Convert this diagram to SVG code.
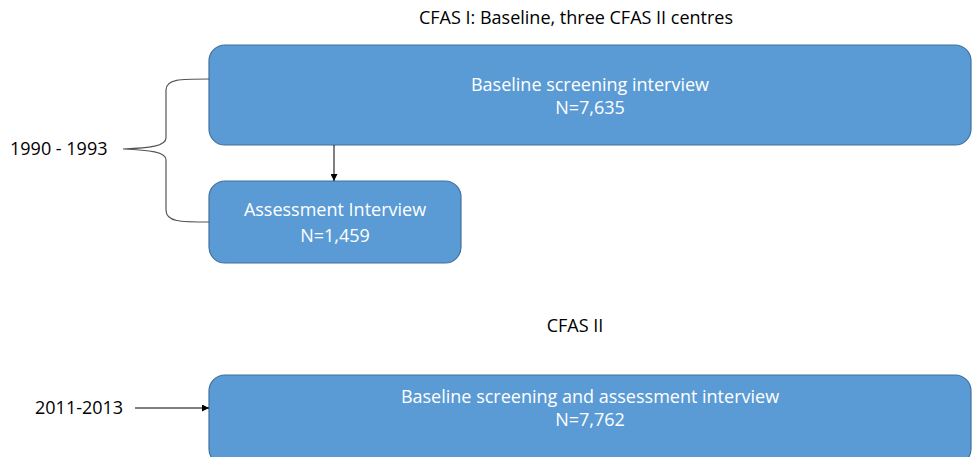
<svg xmlns="http://www.w3.org/2000/svg" width="973" height="457" viewBox="0 0 973 457">
<style>
.box{fill:#5b9bd5;stroke:#41719c;stroke-width:1.2}
.bt{font-family:"Open Sans","Liberation Sans",sans-serif;font-size:18px;fill:#fff;text-anchor:middle}
.lt{font-family:"Open Sans","Liberation Sans",sans-serif;font-size:18px;fill:#000}
.ln{fill:none;stroke:#000;stroke-width:1}
.br{fill:none;stroke:#555;stroke-width:1.2}
</style>
<defs>
<marker id="ah" viewBox="0 0 10 10" refX="10" refY="5" markerWidth="7" markerHeight="7" orient="auto" markerUnits="userSpaceOnUse"><path d="M0,0L10,5L0,10z" fill="#000"/></marker>
</defs>
<text class="lt" x="576" y="24" text-anchor="middle">CFAS I: Baseline, three CFAS II centres</text>
<text class="lt" x="575" y="332" text-anchor="middle">CFAS II</text>
<g id="label-1990"><text class="lt" x="10" y="155">1990 - 1993</text></g>
<g id="label-2011"><text class="lt" x="35" y="414">2011-2013</text></g>
<g id="node-baseline">
<rect class="box" x="209" y="45" width="762" height="100" rx="16"/>
<text class="bt" x="590" y="91">Baseline screening interview</text>
<text class="bt" x="590" y="114">N=7,635</text>
</g>
<g id="node-assessment">
<rect class="box" x="209" y="181" width="252" height="82" rx="16"/>
<text class="bt" x="335" y="216">Assessment Interview</text>
<text class="bt" x="335" y="242">N=1,459</text>
</g>
<g id="node-cfas2">
<rect class="box" x="209" y="375" width="762" height="90" rx="16"/>
<text class="bt" x="590" y="403">Baseline screening and assessment interview</text>
<text class="bt" x="590" y="426">N=7,762</text>
</g>
<g id="connectors">
<path class="br" d="M209,79 C180,79 166,79 166,90 L166,138 C166,146 150,148 123,149 C150,150 166,152 166,160 L166,210 C166,222 180,222 209,222"/>
<line class="ln" x1="334" y1="145" x2="334" y2="181" marker-end="url(#ah)"/>
<line class="ln" x1="135" y1="408" x2="209" y2="408" marker-end="url(#ah)"/>
</g>
</svg>
